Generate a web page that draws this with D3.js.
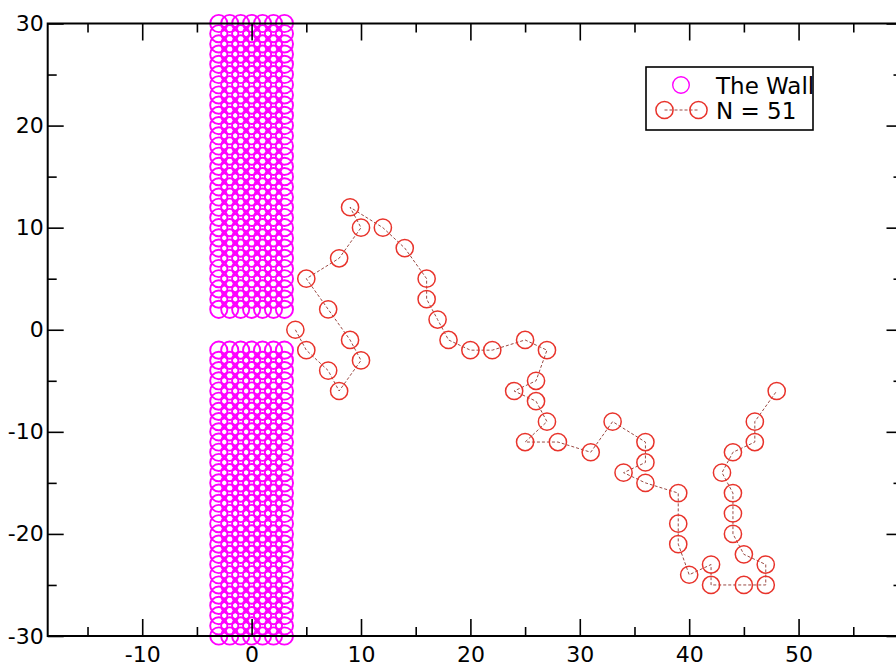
<!DOCTYPE html>
<html>
<head>
<meta charset="utf-8">
<script src="https://cdn.jsdelivr.net/npm/d3@7"></script>
<style>
  html, body { margin: 0; padding: 0; background: #ffffff; }
  svg { display: block; }
  text { font-family: "DejaVu Sans", sans-serif; fill: #000; }
</style>
</head>
<body>
<svg id="chart" width="896" height="669"></svg>
<script>
// ---- data ----
const walkX = [4, 5, 7, 8, 10, 9, 7, 5, 8, 10, 9, 12, 14, 16, 16, 17, 18, 20, 22, 25, 27, 26, 24, 26, 27, 25, 28, 31, 33, 36, 36, 34, 36, 39, 39, 39, 40, 42, 42, 45, 47, 47, 45, 44, 44, 44, 43, 44, 46, 46, 48];
const walkY = [0, -2, -4, -6, -3, -1, 2, 5, 7, 10, 12, 10, 8, 5, 3, 1, -1, -2, -2, -1, -2, -5, -6, -7, -9, -11, -11, -12, -9, -11, -13, -14, -15, -16, -19, -21, -24, -23, -25, -25, -25, -23, -22, -20, -18, -16, -14, -12, -11, -9, -6];
const wallColumns = [-3, -2, -1, 0, 1, 2, 3];
const wallRows = [30, 29, 28, 27, 26, 25, 24, 23, 22, 21, 20, 19, 18, 17, 16, 15, 14, 13, 12, 11, 10, 9, 8, 7, 6, 5, 4, 3, 2,
                  -2, -3, -4, -5, -6, -7, -8, -9, -10, -11, -12, -13, -14, -15, -16, -17, -18, -19, -20, -21, -22, -23, -24, -25, -26, -27, -28, -29, -30];
const xMajorTicks = [-10, 0, 10, 20, 30, 40, 50];
const xMinorTicks = [-15, -5, 5, 15, 25, 35, 45, 55];
const yMajorTicks = [-30, -20, -10, 0, 10, 20, 30];
const yMinorTicks = [-25, -15, -5, 5, 15, 25];
const xDomain = [-18.64, 59.5];
const yDomain = [-30, 30];
const legendLabels = ["The Wall", "N = 51"];

(function () {
// ---- layout ----
const pL = 47.7, pR = 902.5, pT = 23.5, pB = 636;
const svg = d3.select("#chart");
const x = d3.scaleLinear().domain(xDomain).range([pL, pR]);
const y = d3.scaleLinear().domain(yDomain).range([pB, pT]);

const wallColor = "#ff00ff";
const walkColor = "#e8332b";
const R = 8.6;

// wall
const wallPts = [];
wallRows.forEach(r => wallColumns.forEach(c => wallPts.push([c, r])));
svg.append("g").selectAll("circle").data(wallPts).join("circle")
  .attr("cx", d => x(d[0])).attr("cy", d => y(d[1])).attr("r", R)
  .attr("fill", "none").attr("stroke", wallColor).attr("stroke-width", 1.9);

// walk line
const walk = walkX.map((v, i) => [v, walkY[i]]);
svg.append("path").datum(walk)
  .attr("d", d3.line().x(d => x(d[0])).y(d => y(d[1])))
  .attr("fill", "none").attr("stroke", "#9a4a44").attr("stroke-width", 1)
  .attr("stroke-dasharray", "3,2");
svg.append("g").selectAll("circle").data(walk).join("circle")
  .attr("cx", d => x(d[0])).attr("cy", d => y(d[1])).attr("r", R)
  .attr("fill", "none").attr("stroke", walkColor).attr("stroke-width", 1.5);

// axes
const fmt = d => String(d);
function styleAxis(g) {
  g.select(".domain").remove();
  g.selectAll(".tick line").attr("stroke", "#000").attr("stroke-width", 1.6);
  g.selectAll(".tick text").attr("font-size", 22).attr("font-family", "DejaVu Sans, sans-serif").attr("fill", "#000");
}
// bottom
svg.append("g").attr("transform", `translate(0,${pB})`)
  .call(d3.axisBottom(x).tickValues(xMajorTicks).tickFormat(fmt).tickSizeInner(-17).tickSizeOuter(0).tickPadding(10))
  .call(styleAxis);
svg.append("g").attr("transform", `translate(0,${pB})`)
  .call(d3.axisBottom(x).tickValues(xMinorTicks).tickFormat("").tickSizeInner(-9).tickSizeOuter(0))
  .call(styleAxis);
// top
svg.append("g").attr("transform", `translate(0,${pT})`)
  .call(d3.axisTop(x).tickValues(xMajorTicks).tickFormat("").tickSizeInner(-17).tickSizeOuter(0))
  .call(styleAxis);
svg.append("g").attr("transform", `translate(0,${pT})`)
  .call(d3.axisTop(x).tickValues(xMinorTicks).tickFormat("").tickSizeInner(-9).tickSizeOuter(0))
  .call(styleAxis);
// left
svg.append("g").attr("transform", `translate(${pL},0)`)
  .call(d3.axisLeft(y).tickValues(yMajorTicks).tickFormat(fmt).tickSizeInner(-16).tickSizeOuter(0).tickPadding(4))
  .call(styleAxis);
svg.append("g").attr("transform", `translate(${pL},0)`)
  .call(d3.axisLeft(y).tickValues(yMinorTicks).tickFormat("").tickSizeInner(-9).tickSizeOuter(0))
  .call(styleAxis);
// right
svg.append("g").attr("transform", `translate(${pR},0)`)
  .call(d3.axisRight(y).tickValues(yMajorTicks).tickFormat("").tickSizeInner(-16).tickSizeOuter(0))
  .call(styleAxis);
svg.append("g").attr("transform", `translate(${pR},0)`)
  .call(d3.axisRight(y).tickValues(yMinorTicks).tickFormat("").tickSizeInner(-9).tickSizeOuter(0))
  .call(styleAxis);

// frame
svg.append("rect").attr("x", pL).attr("y", pT)
  .attr("width", pR - pL).attr("height", pB - pT)
  .attr("fill", "none").attr("stroke", "#000").attr("stroke-width", 2);

// legend
const lg = svg.append("g");
lg.append("rect").attr("x", 646).attr("y", 67).attr("width", 167).attr("height", 63)
  .attr("fill", "#fff").attr("stroke", "#000").attr("stroke-width", 1.6);
lg.append("circle").attr("cx", 681).attr("cy", 85).attr("r", 8.3)
  .attr("fill", "none").attr("stroke", wallColor).attr("stroke-width", 1.4);
lg.append("line").attr("x1", 664.5).attr("x2", 698.5).attr("y1", 110).attr("y2", 110)
  .attr("stroke", "#9a4a44").attr("stroke-width", 1).attr("stroke-dasharray", "3,2");
[664.5, 698.5].forEach(cx => lg.append("circle").attr("cx", cx).attr("cy", 110).attr("r", R)
  .attr("fill", "none").attr("stroke", walkColor).attr("stroke-width", 1.5));
lg.append("text").attr("x", 716).attr("y", 93.5).attr("font-size", 23).text(legendLabels[0]);
lg.append("text").attr("x", 716).attr("y", 119).attr("font-size", 23).text(legendLabels[1]);
})();
</script>
</body>
</html>
